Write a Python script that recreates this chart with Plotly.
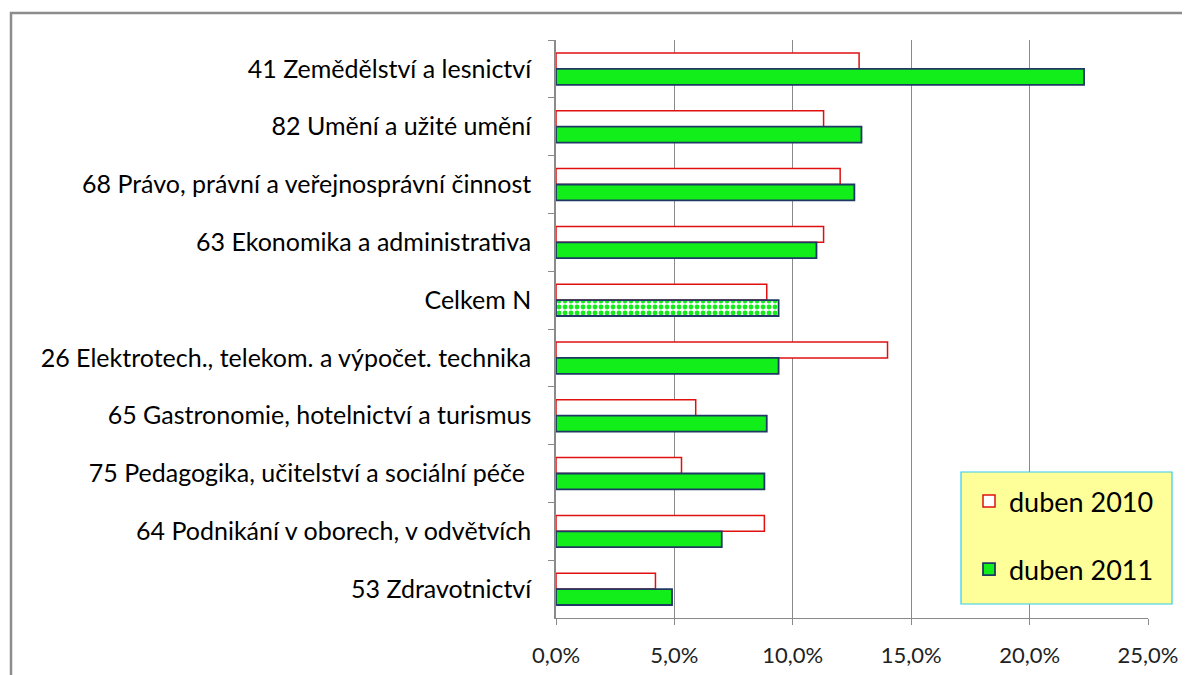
import plotly.graph_objects as go

categories = [
    "41 Zemědělství a lesnictví",
    "82 Umění a užité umění",
    "68 Právo, právní a veřejnosprávní činnost",
    "63 Ekonomika a administrativa",
    "Celkem N",
    "26 Elektrotech., telekom. a výpočet. technika",
    "65 Gastronomie, hotelnictví a turismus",
    "75 Pedagogika, učitelství a sociální péče ",
    "64 Podnikání v oborech, v odvětvích",
    "53 Zdravotnictví",
]
duben_2010 = [12.8, 11.3, 12.0, 11.3, 8.9, 14.0, 5.9, 5.3, 8.8, 4.2]
duben_2011 = [22.3, 12.9, 12.6, 11.0, 9.4, 9.4, 8.9, 8.8, 7.0, 4.9]
tick_vals = [0, 5, 10, 15, 20, 25]
tick_text = ["0,0%", "5,0%", "10,0%", "15,0%", "20,0%", "25,0%"]
series_names = ["duben 2010", "duben 2011"]

FONT = "Lato"
green = "#12ee1a"

shapes_2011 = ["." if c == "Celkem N" else "" for c in categories]

fig = go.Figure()
fig.add_trace(go.Bar(
    y=categories, x=duben_2010, orientation="h", name=series_names[0],
    legendgroup="a",
    marker=dict(color="white", line=dict(color="#e01010", width=1.5)),
))
fig.add_trace(go.Bar(
    y=categories, x=duben_2011, orientation="h", name=series_names[1],
    legendgroup="b",
    marker=dict(color=green, line=dict(color="#1f3864", width=1.8),
                pattern=dict(shape=shapes_2011, fillmode="replace",
                             bgcolor="white", fgcolor=green, size=6, solidity=0.5)),
))

# page offset (body margin) of 8px
OFF = 8
L, R, T, B = 556, 1148, 40, 618   # plot area in page coords
W, H = 1190 - OFF, 675 - OFF
pw, ph = R - L, B - T

def px(x):
    return (x - L) / pw

def py(y):
    return (B - y) / ph

fig.update_layout(
    width=W, height=H,
    margin=dict(l=L - OFF, r=W - (R - OFF), t=T - OFF, b=H - (B - OFF)),
    paper_bgcolor="white", plot_bgcolor="white",
    barmode="group", bargap=0.45, bargroupgap=0,
    separators=", ",
    font=dict(family=FONT, size=25, color="black"),
    xaxis=dict(range=[0, 25], tickvals=tick_vals, ticktext=tick_text,
               showgrid=True, gridcolor="#8a8a8a", gridwidth=1,
               showline=True, linecolor="#8a8a8a", linewidth=1,
               ticks="outside", ticklen=6, tickcolor="#8a8a8a",
               tickfont=dict(size=22, color="#222"), ticklabelstandoff=12,
               automargin=False, zeroline=False, fixedrange=True),
    yaxis=dict(autorange="reversed", type="category",
               showline=True, linecolor="#8a8a8a", linewidth=1.5,
               ticks="outside", ticklen=6, tickcolor="#8a8a8a", tickson="boundaries",
               tickfont=dict(size=25, color="black"), ticklabelstandoff=18,
               automargin=False, showgrid=False),
    showlegend=True,
    legend=dict(x=px(969), y=py(477), xanchor="left", yanchor="top",
                bgcolor="rgba(0,0,0,0)", borderwidth=0,
                font=dict(size=27, family=FONT, color="black"),
                traceorder="grouped", tracegroupgap=30, itemwidth=30),
    shapes=[
        dict(type="rect", xref="paper", yref="paper", layer="above",
             x0=px(961), x1=px(1172), y0=py(604), y1=py(472),
             fillcolor="#ffff99", line=dict(color="#33ccee", width=1.2)),
        dict(type="path", xref="paper", yref="paper", layer="below",
             path=f"M {px(11)} {py(700)} L {px(11)} {py(13)} L {px(1200)} {py(13)}",
             line=dict(color="#8c8c8c", width=2.5)),
    ],
)

fig.write_html("out.html")
